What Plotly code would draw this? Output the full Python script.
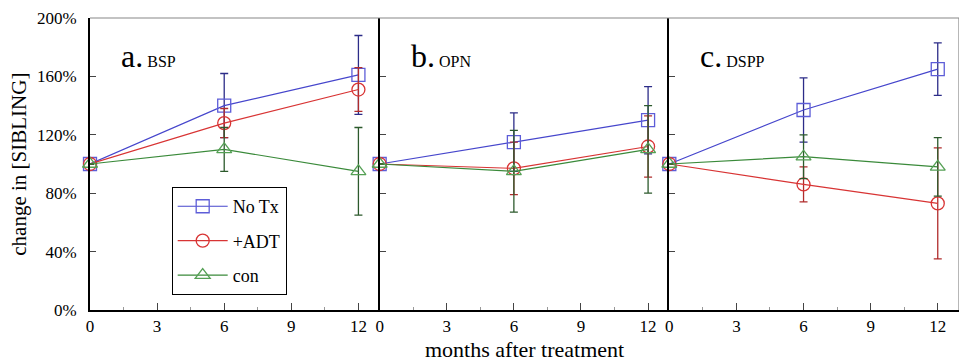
import plotly.graph_objects as go
from plotly.subplots import make_subplots

# Months after treatment at which each marker was measured
months = [0, 6, 12]

# Panel labels
panel_letters = ["a.", "b.", "c."]
panel_genes = ["BSP", "OPN", "DSPP"]

# Relative SIBLING level (%) for each group, per panel, with +/- error
bsp_notx = [100, 140, 161]
bsp_notx_err = [0, 22, 27]
bsp_adt = [100, 128, 151]
bsp_adt_err = [0, 10, 15]
bsp_con = [100, 110, 95]
bsp_con_err = [0, 15, 30]

opn_notx = [100, 115, 130]
opn_notx_err = [0, 20, 23]
opn_adt = [100, 97, 112]
opn_adt_err = [0, 18, 21]
opn_con = [100, 95, 110]
opn_con_err = [0, 28, 30]

dspp_notx = [100, 137, 165]
dspp_notx_err = [0, 22, 18]
dspp_adt = [100, 86, 73]
dspp_adt_err = [0, 12, 38]
dspp_con = [100, 105, 98]
dspp_con_err = [0, 15, 20]

group_names = ["No Tx", "+ADT", "con"]
x_ticks = [0, 3, 6, 9, 12]
y_ticks = [0, 40, 80, 120, 160, 200]
y_tick_labels = ["0%", "40%", "80%", "120%", "160%", "200%"]

panels = [
    [(bsp_notx, bsp_notx_err), (bsp_adt, bsp_adt_err), (bsp_con, bsp_con_err)],
    [(opn_notx, opn_notx_err), (opn_adt, opn_adt_err), (opn_con, opn_con_err)],
    [(dspp_notx, dspp_notx_err), (dspp_adt, dspp_adt_err), (dspp_con, dspp_con_err)],
]

styles = [
    dict(line="#4646cc", marker="#5d5dd8", err="#2c2c88", symbol="square-open"),
    dict(line="#d83434", marker="#d83434", err="#b02c2c", symbol="circle-open"),
    dict(line="#3a8a3a", marker="#55a055", err="#2c5a2c", symbol="triangle-up-open"),
]

SERIF = "Liberation Serif, Times New Roman, serif"

fig = make_subplots(rows=1, cols=3, shared_yaxes=True, horizontal_spacing=0)

for col, series in enumerate(panels, start=1):
    for k, (vals, errs) in enumerate(series):
        st = styles[k]
        fig.add_trace(
            go.Scatter(
                x=months,
                y=vals,
                mode="lines+markers",
                name=group_names[k],
                legendgroup=group_names[k],
                showlegend=(col == 1),
                line=dict(color=st["line"], width=1.2),
                marker=dict(symbol=st["symbol"], size=13, color=st["marker"],
                            line=dict(width=1.3, color=st["marker"])),
                error_y=dict(type="data", array=errs, visible=True,
                             color=st["err"], thickness=1.3, width=4),
                cliponaxis=False,
            ),
            row=1, col=col,
        )

for col in range(1, 4):
    fig.update_xaxes(
        range=[0, 12.95], tickvals=x_ticks, ticks="inside", ticklen=7,
        tickcolor="#444", showline=True, linecolor="black", linewidth=1.5,
        showgrid=False, zeroline=False, ticklabelstandoff=0,
        tickfont=dict(family=SERIF, size=17, color="black"),
        minor=dict(dtick=1.5, ticks="inside", ticklen=3, tickcolor="#999"),
        row=1, col=col,
    )
    fig.update_yaxes(
        range=[0, 200], tickvals=y_ticks, ticktext=y_tick_labels, ticks="inside",
        ticklen=6, tickcolor="#444", showline=True, linecolor="black",
        linewidth=2, showgrid=False, zeroline=False, ticklabelstandoff=8,
        tickfont=dict(family=SERIF, size=17, color="black"),
        row=1, col=col,
    )

# Panel titles
for i, (letter, gene) in enumerate(zip(panel_letters, panel_genes)):
    xref = "x domain" if i == 0 else f"x{i + 1} domain"
    fig.add_annotation(
        xref=xref, yref="paper", x=0.1, y=0.87, xanchor="left", yanchor="middle",
        text=f"<span style='font-size:32px'>{letter}</span>&nbsp;{gene}",
        showarrow=False, font=dict(family=SERIF, size=16, color="black"),
    )

# Axis titles
fig.add_annotation(
    xref="paper", yref="paper", x=0.5, y=-0.134, xanchor="center", yanchor="middle",
    text="months after treatment", showarrow=False,
    font=dict(family=SERIF, size=22, color="black"),
)
fig.add_annotation(
    xref="paper", yref="paper", x=-0.082, y=0.5, xanchor="center", yanchor="middle",
    text="change in [SIBLING]", textangle=-90, showarrow=False,
    font=dict(family=SERIF, size=21, color="black"),
)

# Light frame along the top and right edge
fig.add_shape(type="line", xref="paper", yref="paper", x0=0, x1=1, y0=1, y1=1,
              line=dict(color="#888", width=1.2))
fig.add_shape(type="line", xref="paper", yref="paper", x0=1, x1=1, y0=0, y1=1,
              line=dict(color="#888", width=1.2))

fig.update_layout(
    width=959, height=362,
    margin=dict(l=90, r=0, t=18, b=52),
    paper_bgcolor="white", plot_bgcolor="white",
    font=dict(family=SERIF, color="black"),
    legend=dict(
        x=0.094, y=0.421, xanchor="left", yanchor="top",
        bordercolor="black", borderwidth=1, bgcolor="white",
        font=dict(family=SERIF, size=18, color="black"),
        tracegroupgap=8, itemwidth=50,
    ),
)

fig.write_html("out.html")
